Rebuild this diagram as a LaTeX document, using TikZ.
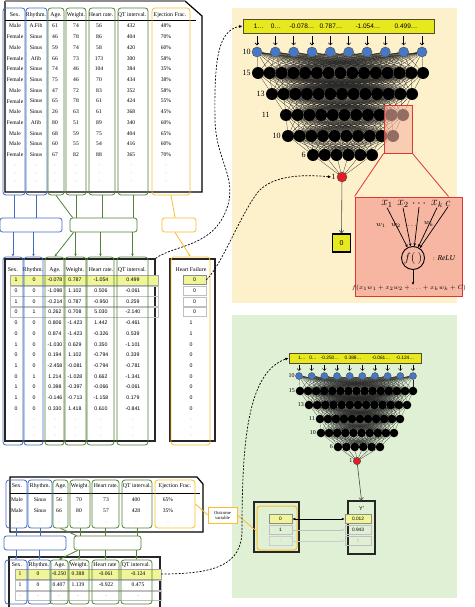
\documentclass[tikz,border=0pt]{standalone}
\usepackage{fontspec}
\setmainfont{Liberation Serif}
\newfontfamily\sansf{Liberation Sans}
\usepackage{tikz}
\usetikzlibrary{arrows.meta,positioning,fit}

\definecolor{colblue}{RGB}{68,108,190}
\definecolor{colgreen}{RGB}{84,130,58}
\definecolor{colyel}{RGB}{250,190,45}
\definecolor{cream}{RGB}{253,241,203}
\definecolor{mint}{RGB}{223,240,212}
\definecolor{barfill}{RGB}{232,232,30}
\definecolor{hlyel}{RGB}{240,245,150}
\definecolor{nnblue}{RGB}{70,120,200}
\definecolor{nnred}{RGB}{225,30,40}
\definecolor{salmon}{RGB}{246,182,162}
\definecolor{zred}{RGB}{220,55,50}

\pgfdeclarelayer{bg}
\pgfdeclarelayer{edges}
\pgfsetlayers{bg,edges,main}

\tikzset{
  bluecol/.style={draw=colblue, line width=0.8pt, rounded corners=3pt, inner sep=0pt},
  greencol/.style={draw=colgreen, line width=0.8pt, rounded corners=3pt, inner sep=0pt},
  yelcol/.style={draw=colyel, line width=0.8pt, rounded corners=3pt, inner sep=0pt},
  midbox/.style={fill=white, line width=0.8pt, rounded corners=2.5pt, inner sep=0pt},
  tabframe/.style={draw=black!85, line width=1.2pt, inner sep=0pt},
  thead/.style={font=\fontsize{5.8}{6}\selectfont, inner sep=0pt},
  tcell/.style={font=\fontsize{5.6}{6}\selectfont, inner sep=0pt},
  ncell/.style={font=\sansf\fontsize{5.2}{6}\selectfont, inner sep=0pt},
  rowbox/.style={draw=black!25, line width=0.4pt, inner sep=0pt},
  hfcell/.style={font=\sansf\fontsize{5.2}{6}\selectfont, inner sep=0pt, minimum width=23pt, minimum height=9pt},
  bline/.style={colblue, line width=0.8pt},
  gline/.style={colgreen, line width=0.8pt},
  yline/.style={colyel, line width=0.8pt},
  arrtip/.style={-{Stealth[length=3pt,width=2.6pt]}},
  inbar/.style={draw=black!55!olive, fill=barfill, line width=0.8pt, inner sep=0pt},
  bartxt/.style={font=\sansf\fontsize{6.5}{7}\selectfont, inner sep=0pt},
  neuron/.style={circle, fill=black, inner sep=0pt, minimum size=12pt},
  inneuron/.style={circle, fill=nnblue, draw=black!70, line width=0.4pt, inner sep=0pt, minimum size=10pt},
  outneuron/.style={circle, fill=nnred, draw=black!70, line width=0.4pt, inner sep=0pt, minimum size=10pt},
  nnedge/.style={black!85, line width=0.25pt},
  lyrlbl/.style={font=\fontsize{8}{8}\selectfont, inner sep=0pt},
  inarr/.style={line width=0.6pt, shorten >=1.5pt, -{Straight Barb[length=2pt,width=4pt]}},
  outarr/.style={black!70, line width=0.6pt, -{Straight Barb[length=2.5pt,width=4.5pt]}},
  dasharr/.style={dashed, dash pattern=on 2pt off 1.5pt, line width=0.7pt, -{Latex[length=3.5pt,width=3pt]}},
  ansbox/.style={draw=black, fill=barfill, line width=1.2pt, inner sep=0pt, minimum size=18pt, font=\sansf\fontsize{7}{7}\selectfont},
  mathin/.style={font=\fontsize{12}{12}\selectfont, inner sep=0pt},
  wlbl/.style={font=\fontsize{7}{7}\selectfont, inner sep=0pt},
  warr/.style={line width=0.7pt, -{Stealth[length=3pt,width=2.6pt]}},
  valbox/.style={draw=black!45, line width=0.5pt, inner sep=0pt, minimum height=9pt, font=\sansf\fontsize{4.8}{5}\selectfont},
  blackbox/.style={draw=black!85, line width=1.2pt, inner sep=0pt}
}

\begin{document}
\begin{tikzpicture}[x=1pt, y=-1pt]
  \useasboundingbox (0,0) rectangle (474,607);
  \begin{pgfonlayer}{bg}
    \fill[white] (0,0) rectangle (474,607);
    \fill[cream] (232,8) rectangle (457,303);
    \fill[mint] (232,315) rectangle (457,598);
  \end{pgfonlayer}

  % Raw data table
  \draw[line width=1.2pt] (185,1) -- (202,16) -- (202,192) -- (5,192) -- (5,1);
  \draw[black!45, line width=2pt] (5,1) -- (185,1);
  \draw[line width=0.6pt] (5,20) -- (196,20);
  \foreach \h/\x [count=\k] in {Sex./15, Rhythm./36, Age./56, Weight./76, Heart rate./101, QT interval./132, Ejection Frac./170}
    \node[thead] (th\k) at (\x,15) {\h};
  \foreach \sx/\rh/\ag/\wt/\hr/\qt/\ef [count=\r] in {Male/A.Fib/61/74/56/432/48\%, Female/Sinus/46/78/86/404/70\%, Male/Sinus/59/74/58/420/60\%, Female/Afib/66/73/173/300/58\%, Female/Sinus/74/46/104/384/35\%, Female/Sinus/75/46/70/434/38\%, Male/Sinus/47/72/83/352/58\%, Female/Sinus/65/78/61/424/55\%, Male/Sinus/26/63/61/368/45\%, Female/Afib/80/51/89/340/60\%, Male/Sinus/68/59/75/404/65\%, Male/Sinus/60/55/54/416/60\%, Female/Sinus/67/82/88/365/70\%}
    \foreach \v/\x [count=\k] in {\sx/15, \rh/36, \ag/55, \wt/76, \hr/99, \qt/131, \ef/166}
      \node[tcell] (t\r-\k) at (\x,{26+(\r-1)*10.73}) {\v};
  \foreach \yy in {165,173,181}
    \foreach \x in {15,36,55,76,99,131,166}
      \fill[black!45] (\x,\yy) circle (0.35);
  \foreach \nm/\st/\xa/\xb in {tSex/bluecol/3/25, tRhy/bluecol/26/47, tAge/greencol/48/64, tWt/greencol/66/86, tHR/greencol/89/115, tQT/greencol/118/148, tEF/yelcol/152/190}
    \node[\st, fit={(\xa,8) (\xb,195)}] (\nm) {};

  % Grouping boxes
  \node[midbox, draw=colblue, fit={(0,218) (62,232)}] (kBlue) {};
  \node[midbox, draw=colgreen, fit={(70,218) (137,232)}] (kGreen) {};
  \node[midbox, draw=colyel, fit={(162,218) (196,232)}] (kYel) {};

  % Scaled table
  \node[tabframe, fit={(5,259) (155,441)}] (mTab) {};
  \node[tabframe, fit={(170,259) (215,441)}] (mHFTab) {};
  \node[rowbox, fill=hlyel, draw=black!35, fit={(10,275) (158,285.5)}] (mRow1) {};
  \foreach \r in {2,3,4}
    \node[rowbox, fit={(10,{275+(\r-1)*10.72}) (158,{285+(\r-1)*10.72})}] (mRow\r) {};
  \foreach \h/\x [count=\k] in {Sex./13, Rhythm./33, Age./55, Weight./75, Heart rate./101, QT interval./132}
    \node[thead] (mh\k) at (\x,270) {\h};
  \node[thead] (mh7) at (191,270) {Heart Failure};
  \foreach \sx/\rh/\ag/\wt/\hr/\qt [count=\r] in {1/0/-0.078/0.787/-1.054/0.499, 0/0/-1.098/1.102/0.506/-0.061, 1/0/-0.214/0.787/-0.950/0.259, 0/1/0.262/0.708/5.030/-2.140, 0/0/0.806/-1.423/1.442/-0.461, 0/0/0.874/-1.423/-0.326/0.539, 1/0/-1.030/0.629/0.350/-1.101, 0/0/0.194/1.102/-0.794/0.339, 1/0/-2.458/-0.081/-0.794/-0.781, 0/1/1.214/-1.028/0.662/-1.341, 1/0/0.398/-0.397/-0.066/-0.061, 1/0/-0.146/-0.713/-1.158/0.179, 0/0/0.330/1.418/0.610/-0.841}
    \foreach \v/\x [count=\k] in {\sx/16, \rh/34, \ag/55, \wt/75, \hr/101, \qt/133}
      \node[ncell] (m\r-\k) at (\x,{280+(\r-1)*10.72}) {\v};
  \node[hfcell, draw=black!45, fill=hlyel] (hf1) at (194.5,280) {0};
  \foreach \v [count=\r from 2] in {0,0,0}
    \node[hfcell, draw=black!25] (hf\r) at (194.5,{280+(\r-1)*10.72}) {\v};
  \foreach \v [count=\r from 5] in {1,1,0,0,0,0,0,0,0}
    \node[hfcell] (hf\r) at (191,{280+(\r-1)*10.72}) {\v};
  \foreach \yy in {419,427,435}
    \foreach \x in {16,34,55,75,101,133,191}
      \fill[black!45] (\x,\yy) circle (0.35);
  \foreach \nm/\st/\xa/\xb in {mSex/bluecol/3/23, mRhy/bluecol/24/43, mAge/greencol/45/64, mWt/greencol/65/86, mHR/greencol/87/114, mQT/greencol/117/148, mHF/yelcol/171/210}
    \node[\st, fit={(\xa,257) (\xb,445)}] (\nm) {};

  % Column links
  \draw[bline] (tSex.south) -- (tSex.south |- kBlue.north);
  \draw[bline] (tRhy.south) -- (tRhy.south |- kBlue.north);
  \draw[bline, arrtip] (kBlue.south -| mSex.north) -- (mSex.north);
  \draw[bline, arrtip] (kBlue.south -| mRhy.north) -- (mRhy.north);
  \draw[gline] (tAge.south) -- ([xshift=3pt]kGreen.north west);
  \foreach \c in {tWt,tHR,tQT}
    \draw[gline] (\c.south) -- (\c.south |- kGreen.north);
  \draw[gline, arrtip] ([xshift=4pt]kGreen.south west) -- (mAge.north);
  \foreach \c in {mWt,mHR,mQT}
    \draw[gline, arrtip] (kGreen.south -| \c.north) -- (\c.north);
  \draw[yline] (tEF.south) -- ([xshift=-4pt]kYel.north);
  \draw[yline, arrtip] ([xshift=-4pt]kYel.south) -- (mHF.north);

  % Training network
  \node[inbar, fit={(243,19) (434,33)}] (Abar) {};
  \foreach \t/\x [count=\k] in {1\ldots/259, 0\ldots/276, -0.078\ldots/302, 0.787\ldots/331, -1.054\ldots/368, 0.499\ldots/406}
    \node[bartxt] (Abt\k) at (\x,26) {\t};
  \foreach \i in {1,...,10}
    \node[inneuron] (A1-\i) at ({257+(\i-1)*165/9},52) {};
  \foreach \L/\n/\yy/\xa/\xb in {2/15/73/258/423, 3/13/94/272/412, 4/11/115/286/403, 5/10/136/288/393, 6/6/155/313/372}
    \foreach \i in {1,...,\n}
      \node[neuron] (A\L-\i) at ({\xa+(\i-1)*(\xb-\xa)/(\n-1)},\yy) {};
  \node[outneuron] (Aout) at (342,177) {};
  \begin{pgfonlayer}{edges}
    \foreach \L/\M/\n/\m in {1/2/10/15, 2/3/15/13, 3/4/13/11, 4/5/11/10, 5/6/10/6}
      \foreach \i in {1,...,\n}
        \foreach \j in {1,...,\m}
          \draw[nnedge] (A\L-\i) -- (A\M-\j);
    \foreach \i in {1,...,6}
      \draw[nnedge] (A6-\i) -- (Aout);
  \end{pgfonlayer}
  \foreach \i in {1,...,10}
    \draw[inarr] (A1-\i |- Abar.south) ++(0,3) -- (A1-\i.north);
  \node[lyrlbl, left=1pt of A1-1] (Al1) {10};
  \node[lyrlbl, left=1pt of A2-1] (Al2) {15};
  \node[lyrlbl, left=1pt of A3-1] (Al3) {13};
  \node[lyrlbl, left=10pt of A4-1] (Al4) {11};
  \node[lyrlbl, left=1pt of A5-1] (Al5) {10};
  \node[lyrlbl, left=1pt of A6-1] (Al6) {6};
  \node[lyrlbl, left=1pt of Aout] (Alo) {1};
  \node[ansbox] (ansA) at (341.5,243) {0};
  \draw[outarr] (Aout) -- (ansA.north);

  % Neuron detail
  \node[draw=zred, fill=salmon, fill opacity=0.6, line width=0.8pt, inner sep=0pt, fit={(384,105) (412,153)}] (zRect) {};
  \node[draw=zred, fill=salmon, line width=1pt, inner sep=0pt, fit={(355,197) (462,296)}] (zBig) {};
  \draw[zred, line width=0.8pt] (zRect.south west) -- (zBig.north west);
  \draw[zred, line width=0.8pt] (zRect.south east) -- ([xshift=-14pt]zBig.north east);
  \foreach \t/\x [count=\k] in {x_1/387, x_2/403, \cdots/419, x_k/437, c/448}
    \node[mathin] (xin\k) at (\x,204) {$\t$};
  \node[circle, draw, line width=0.9pt, inner sep=0pt, minimum size=23pt, font=\fontsize{12}{12}\selectfont] (fN) at (413,258) {$f(\,)$};
  \foreach \k in {1,...,5}
    \draw[warr] (xin\k.south) -- (fN);
  \node[wlbl] (w1) at (381,225) {$w_1$};
  \node[wlbl] (w2) at (396,225) {$w_2$};
  \node[wlbl] (w3) at (412,226) {$\cdots$};
  \node[wlbl] (w4) at (429,224) {$w_k$};
  \node[font=\fontsize{7.5}{8}\selectfont, inner sep=0pt] (relu) at (444,258) {$:\mathit{ReLU}$};
  \node[font=\fontsize{6.5}{7}\selectfont, inner sep=0pt] (fForm) at (409,288) {$f(x_1w_1+x_2w_2+\ldots+x_kw_k+C)$};
  \draw[warr] (fN.south) -- (fN.south |- fForm.north);

  % Data flow into networks
  \draw[dasharr] (mTab.north east) .. controls (175,244) and (215,248) .. (228,205)
    .. controls (236,175) and (216,160) .. (215,120) .. controls (214,60) and (218,30) .. (Abar.west);
  \draw[dasharr] (hf1.east) .. controls (222,265) and (240,215) .. (258,192)
    .. controls (272,176) and (300,174) .. (Alo.west);

  % New patient table
  \draw[line width=1.2pt] (10,477) -- (197,477) -- (203,484) -- (203,532) -- (10,532) -- cycle;
  \draw[line width=0.6pt] (10,493) -- (200,493);
  \foreach \h/\x [count=\k] in {Sex./17, Rhythm./40, Age./61, Weight./80, Heart rate./106, QT interval./137, Ejection Frac./175}
    \node[thead] (uh\k) at (\x,486) {\h};
  \foreach \sx/\rh/\ag/\wt/\hr/\qt/\ef [count=\r] in {Male/Sinus/56/70/73/400/65\%, Male/Sinus/66/80/57/428/35\%}
    \foreach \v/\x [count=\k] in {\sx/17, \rh/40, \ag/59, \wt/79, \hr/106, \qt/136, \ef/168}
      \node[tcell] (u\r-\k) at (\x,{500+(\r-1)*11}) {\v};
  \foreach \x in {17,40,59,79,106,136,168}
    \fill[black!45] (\x,522) circle (0.35);
  \foreach \nm/\st/\xa/\xb in {uSex/bluecol/6/27, uRhy/bluecol/28/52, uAge/greencol/53/68, uWt/greencol/70/90, uHR/greencol/92/119, uQT/greencol/122/152, uEF/yelcol/155/195}
    \node[\st, fit={(\xa,480) (\xb,528)}] (\nm) {};
  \node[midbox, draw=colblue, fit={(4,536) (66,550)}] (vBlue) {};
  \node[midbox, draw=colgreen, fit={(74,536) (141,550)}] (vGreen) {};

  % New patient, scaled
  \node[tabframe, fit={(9,557) (160,612)}] (wTab) {};
  \node[rowbox, fill=hlyel, draw=black!35, fit={(15,569) (161,579)}] (wRow1) {};
  \node[rowbox, fit={(15,580) (161,590)}] (wRow2) {};
  \node[rowbox, fit={(15,591) (161,600)}] (wRow3) {};
  \foreach \h/\x [count=\k] in {Sex./17, Rhythm./39, Age./60, Weight./79, Heart rate/105, QT interval./136}
    \node[thead] (wh\k) at (\x,565) {\h};
  \foreach \sx/\rh/\ag/\wt/\hr/\qt [count=\r] in {1/0/-0.250/0.388/-0.061/-0.124, 1/0/0.407/1.139/-0.922/0.475}
    \foreach \v/\x [count=\k] in {\sx/20, \rh/38, \ag/59, \wt/78, \hr/106, \qt/138}
      \node[tcell] (w\r-\k) at (\x,{574+(\r-1)*11}) {\v};
  \foreach \x in {20,38,59,78,106,138}
    \fill[black!45] (\x,595.5) circle (0.35);
  \foreach \nm/\st/\xa/\xb in {wSex/bluecol/5/27, wRhy/bluecol/28/51, wAge/greencol/50/68, wWt/greencol/69/89, wHR/greencol/92/119, wQT/greencol/121/152}
    \node[\st, fit={(\xa,560) (\xb,604)}] (\nm) {};

  \draw[bline] (uSex.south) -- (uSex.south |- vBlue.north);
  \draw[bline] (uRhy.south) -- (uRhy.south |- vBlue.north);
  \draw[bline, arrtip] (vBlue.south -| wSex.north) -- (wSex.north);
  \draw[bline, arrtip] (vBlue.south -| wRhy.north) -- (wRhy.north);
  \draw[gline] (uAge.south) -- ([xshift=3pt]vGreen.north west);
  \foreach \c in {uWt,uHR,uQT}
    \draw[gline] (\c.south) -- (\c.south |- vGreen.north);
  \draw[gline, arrtip] ([xshift=4pt]vGreen.south west) -- (wAge.north);
  \foreach \c in {wWt,wHR,wQT}
    \draw[gline, arrtip] (vGreen.south -| \c.north) -- (\c.north);

  % Prediction network
  \node[inbar, line width=0.6pt, fit={(289,353) (421,363)}] (Bbar) {};
  \foreach \t/\x [count=\k] in {1\ldots/302, 0\ldots/313, -0.250\ldots/330, 0.388\ldots/353, -0.061\ldots/381, -0.124\ldots/405}
    \node[bartxt, font=\sansf\fontsize{4.8}{5}\selectfont] (Bbt\k) at (\x,358) {\t};
  \foreach \i in {1,...,10}
    \node[inneuron, minimum size=7pt] (B1-\i) at ({299+(\i-1)*114/9},376) {};
  \foreach \L/\n/\yy/\xa/\xb in {2/15/391/300/413, 3/13/405/309/407, 4/11/419/320/400, 5/10/433/321/394, 6/6/447/338/380}
    \foreach \i in {1,...,\n}
      \node[neuron, minimum size=8.6pt] (B\L-\i) at ({\xa+(\i-1)*(\xb-\xa)/(\n-1)},\yy) {};
  \node[outneuron, minimum size=7.5pt] (Bout) at (357,461) {};
  \begin{pgfonlayer}{edges}
    \foreach \L/\M/\n/\m in {1/2/10/15, 2/3/15/13, 3/4/13/11, 4/5/11/10, 5/6/10/6}
      \foreach \i in {1,...,\n}
        \foreach \j in {1,...,\m}
          \draw[nnedge, line width=0.15pt] (B\L-\i) -- (B\M-\j);
    \foreach \i in {1,...,6}
      \draw[nnedge] (B6-\i) -- (Bout);
  \end{pgfonlayer}
  \foreach \i in {1,...,10}
    \draw[inarr, line width=0.4pt] (B1-\i |- Bbar.south) ++(0,2) -- (B1-\i.north);
  \node[lyrlbl, font=\fontsize{6}{6}\selectfont, left=0.5pt of B1-1] (Bl1) {10};
  \node[lyrlbl, font=\fontsize{6}{6}\selectfont, left=0.5pt of B2-1] (Bl2) {15};
  \node[lyrlbl, font=\fontsize{6}{6}\selectfont, left=0.5pt of B3-1] (Bl3) {13};
  \node[lyrlbl, font=\fontsize{6}{6}\selectfont, left=0.5pt of B4-1] (Bl4) {11};
  \node[lyrlbl, font=\fontsize{6}{6}\selectfont, left=0.5pt of B5-1] (Bl5) {10};
  \node[lyrlbl, font=\fontsize{6}{6}\selectfont, left=0.5pt of B6-1] (Bl6) {6};
  \node[lyrlbl, font=\fontsize{6}{6}\selectfont, left=0.5pt of Bout] (Blo) {1};

  % Prediction output
  \node[blackbox, fit={(254,502) (299,552)}] (gOut) {};
  \node[yelcol, line width=1pt, fit={(257,506) (297,550)}] (gYel) {};
  \node[valbox, fill=hlyel, minimum width=23pt] (gv1) at (280.5,519) {0};
  \node[valbox, draw=black!25, minimum width=23pt] (gv2) at (280.5,530) {1};
  \node[valbox, draw=black!20, text=black!40, minimum width=23pt] (gv3) at (280.5,541) {.};
  \node[blackbox, fit={(348,501) (375,554)}] (yBox) {};
  \node[font=\sansf\fontsize{5.5}{6}\selectfont, inner sep=0pt] (yLbl) at (361.5,509) {Y'};
  \node[valbox, fill=hlyel, minimum width=26pt] (yv1) at (358,519) {0.012};
  \node[valbox, draw=black!25, minimum width=26pt] (yv2) at (358,530) {0.943};
  \node[valbox, draw=black!25, minimum width=26pt] (yv3) at (358,541) {:};
  \draw[outarr] (Bout) -- (yBox.north);
  \draw[line width=0.5pt, {Latex[length=3pt,width=2.5pt]}-{Latex[length=3pt,width=2.5pt]}] (gv1.east) -- (yv1.west);
  \draw[black!25, line width=0.4pt, -{Latex[length=2.5pt,width=2pt,open]}] (gv2.east) -- (yv2.west);
  \draw[black!20, line width=0.4pt, -{Latex[length=2.5pt,width=2pt,open]}] (gv3.east) -- (yv3.west);

  % Outcome variable
  \node[draw=colyel, fill=white, line width=0.7pt, inner sep=0.5pt, minimum width=29pt, minimum height=16pt, align=center, font=\fontsize{4.6}{5}\selectfont] (outc) at (222.5,515) {Outcome\\variable};
  \draw[yline] (uEF.east) -- (outc.west);
  \draw[yline] (outc.east) -- ([yshift=-3pt]gYel.west);
  \draw[dasharr] (wRow1.east) .. controls (215,574) and (242,565) .. (242,530)
    .. controls (242,440) and (248,372) .. (Bbar.west);
\end{tikzpicture}
\end{document}
